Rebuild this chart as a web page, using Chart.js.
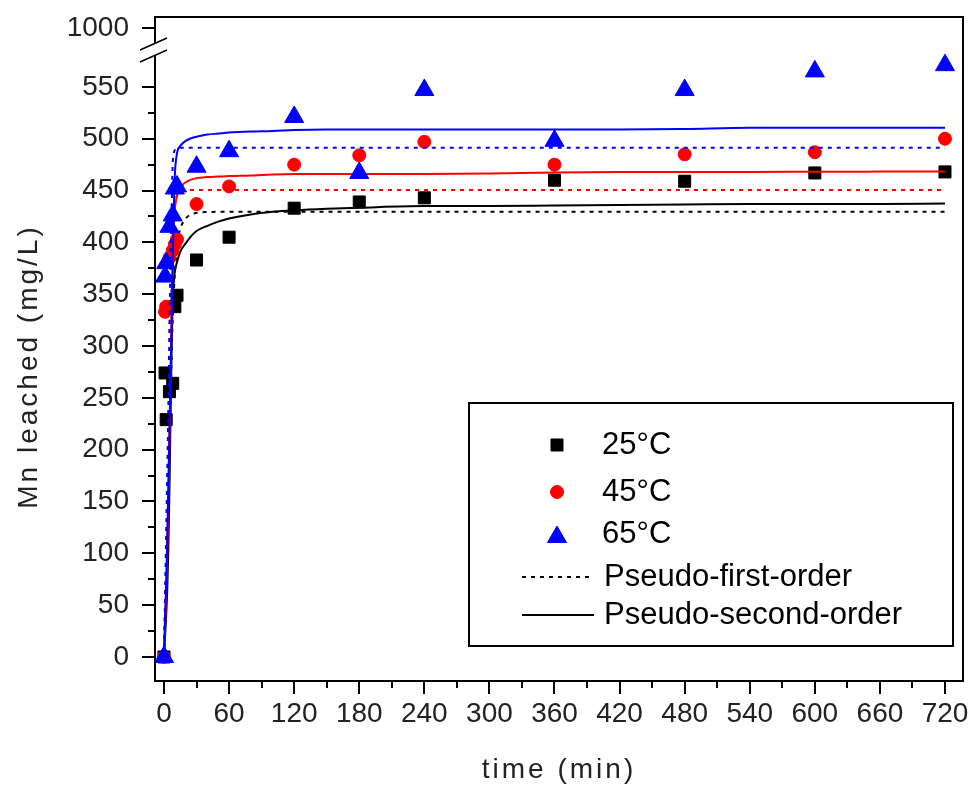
<!DOCTYPE html>
<html>
<head>
<meta charset="utf-8">
<script src="https://cdn.jsdelivr.net/npm/chart.js@4.4.1/dist/chart.umd.min.js"></script>
<style>
  html, body { margin: 0; padding: 0; background: #fff; }
  #wrap { width: 976px; height: 787px; }
</style>
</head>
<body>
<div id="wrap"><canvas id="chart" width="976" height="787"></canvas></div>
<script>
// sampling times (min) and Mn leached (mg/L) at each temperature
var times = [0, 1, 2, 5, 8, 10, 12, 30, 60, 120, 180, 240, 360, 480, 600, 720];
var mn25 = [0, 274, 229, 256, 264, 338, 349, 383, 405, 433, 439, 443, 460, 459, 467, 468];
var mn45 = [0, 333, 338, 385, 392, 398, 403, 437, 454, 475, 484, 497, 475, 485, 487, 500];
var mn65 = [0, 367, 380, 415, 426, 452, 454, 473, 488, 521, 467, 547, 498, 547, 565, 571];

// fitted kinetic curves
var fitTimes = [0, 1, 2, 3, 4, 5, 6, 7, 8, 9, 10, 12, 15, 20, 25, 30, 40, 50, 60, 80, 100, 120, 150, 180, 240, 300, 360, 420, 480, 540, 600, 660, 720];
var pfo25 = [0, 40, 80, 120, 160, 200, 245, 290, 325, 350, 370, 398, 413, 423, 427, 428.5, 429.3, 429.5, 429.5, 429.5, 429.5, 429.5, 429.5, 429.5, 429.5, 429.5, 429.5, 429.5, 429.5, 429.5, 429.5, 429.5, 429.5];
var pso25 = [0, 20, 40, 65, 105, 160, 230, 295, 345, 362, 372, 381, 391, 399, 406, 411, 416, 420, 423, 427, 429.5, 431, 432.5, 433.5, 435, 435, 435.5, 436, 436.5, 437, 437, 437, 437.5];
var pfo45 = [0, 45, 90, 140, 190, 240, 290, 340, 385, 415, 435, 445, 449, 450.3, 450.6, 450.6, 450.6, 450.6, 450.6, 450.6, 450.6, 450.6, 450.6, 450.6, 450.6, 450.6, 450.6, 450.6, 450.6, 450.6, 450.6, 450.6, 450.6];
var pso45 = [0, 30, 60, 100, 150, 205, 265, 330, 385, 415, 432, 445, 453, 458, 460.5, 462, 463, 463.5, 464, 464.5, 465.5, 466, 466, 466, 466, 466.5, 467.5, 468, 468, 468, 468.2, 468.3, 468.5];
var pfo65 = [0, 60, 120, 180, 240, 320, 380, 430, 475, 486, 489, 491, 491.4, 491.4, 491.4, 491.4, 491.4, 491.4, 491.4, 491.4, 491.4, 491.4, 491.4, 491.4, 491.4, 491.4, 491.4, 491.4, 491.4, 491.4, 491.4, 491.4, 491.4];
var pso65 = [0, 40, 70, 115, 165, 215, 270, 320, 375, 430, 465, 486, 493, 498, 500.5, 502, 504, 505, 506, 507, 507.5, 508.5, 509, 509, 509, 509, 509, 509, 509.5, 510.5, 510.5, 510.7, 510.7];

// axis ticks
var xTicks = [0, 60, 120, 180, 240, 300, 360, 420, 480, 540, 600, 660, 720];
var xMinorTicks = [30, 90, 150, 210, 270, 330, 390, 450, 510, 570, 630, 690];
var yTicks = [0, 50, 100, 150, 200, 250, 300, 350, 400, 450, 500, 550];
var yMinorTicks = [25, 75, 125, 175, 225, 275, 325, 375, 425, 475, 525];
var yBreakTicks = [1000];

var legendLabels = ['25°C', '45°C', '65°C', 'Pseudo-first-order', 'Pseudo-second-order'];

function pts(xs, ys) {
	return xs.map(function(x, i) { return { x: x, y: ys[i] }; });
}

var FONT = 'Liberation Sans, Arial, sans-serif';

function markers(label, values, color, style, radius, order) {
	return {
		label: label,
		data: pts(times, values),
		showLine: false,
		pointStyle: style,
		pointRadius: radius,
		pointBackgroundColor: color,
		pointBorderColor: color,
		pointBorderWidth: 1,
		order: order
	};
}

function curve(values, color, dashed, order) {
	return {
		data: pts(fitTimes, values),
		showLine: true,
		pointRadius: 0,
		borderColor: color,
		borderWidth: 2,
		borderDash: dashed ? [4, 5] : [],
		cubicInterpolationMode: 'monotone',
		order: order
	};
}

// fixed axis sizes, and no extra label padding pushing the plot area around
function fixWidth(s) {
	s.width = 155;
	s.paddingTop = 0;
	s.paddingBottom = 0;
}
function fixHeight(s) {
	s.height = 106;
	s.paddingLeft = 0;
	s.paddingRight = 0;
}

// titles are drawn letter-spaced, tick labels (z:1) are not
var titleSpacing = {
	id: 'titleSpacing',
	beforeDraw: function(chart) { chart.ctx.letterSpacing = '3px'; },
	beforeDatasetsDraw: function(chart) { chart.ctx.letterSpacing = '0px'; }
};

// box, minor ticks and the axis break
var frame = {
	id: 'frame',
	afterDraw: function(chart) {
		var ctx = chart.ctx;
		var a = chart.chartArea;
		var xs = chart.scales.x;
		var ys = chart.scales.y;
		ctx.save();
		ctx.strokeStyle = '#000';
		ctx.lineWidth = 2;
		ctx.beginPath();
		ctx.moveTo(a.left, a.top);
		ctx.lineTo(a.right, a.top);
		ctx.lineTo(a.right, a.bottom);
		ctx.stroke();

		ctx.beginPath();
		xMinorTicks.forEach(function(v) {
			var px = Math.round(xs.getPixelForValue(v));
			ctx.moveTo(px, xs.top);
			ctx.lineTo(px, xs.top + 7);
		});
		yMinorTicks.forEach(function(v) {
			var py = Math.round(ys.getPixelForValue(v));
			ctx.moveTo(ys.right - 7, py);
			ctx.lineTo(ys.right, py);
		});
		ctx.stroke();

		// break between the two stacked y ranges
		var ax = ys.right, yb = ys.top;
		ctx.fillStyle = '#fff';
		ctx.fillRect(ax - 4, yb - 8, 8, 11);
		ctx.lineWidth = 1.5;
		ctx.beginPath();
		ctx.moveTo(ax - 15, yb - 2);
		ctx.lineTo(ax + 12, yb - 14);
		ctx.moveTo(ax - 15, yb + 10);
		ctx.lineTo(ax + 12, yb - 2);
		ctx.stroke();
		ctx.restore();
	}
};

var legendBox = {
	id: 'legendBox',
	afterDraw: function(chart) {
		var ctx = chart.ctx;
		var ds = chart.data.datasets;
		ctx.save();
		ctx.strokeStyle = '#000';
		ctx.lineWidth = 2;
		ctx.strokeRect(469, 403, 484, 243);

		var rows = [445, 492, 534, 577, 615];
		[0, 1, 2].forEach(function(i) {
			var d = ds[i];
			ctx.fillStyle = d.pointBackgroundColor;
			ctx.strokeStyle = d.pointBorderColor;
			ctx.lineWidth = 1;
			Chart.helpers.drawPoint(ctx, { pointStyle: d.pointStyle, radius: d.pointRadius, rotation: 0, borderWidth: 1 }, 557, rows[i] + (i === 2 ? 3 : 0));
		});
		ctx.strokeStyle = '#000';
		ctx.lineWidth = 2;
		ctx.setLineDash([4, 5]);
		ctx.beginPath();
		ctx.moveTo(522, rows[3]);
		ctx.lineTo(594, rows[3]);
		ctx.stroke();
		ctx.setLineDash([]);
		ctx.beginPath();
		ctx.moveTo(522, rows[4]);
		ctx.lineTo(594, rows[4]);
		ctx.stroke();

		ctx.fillStyle = '#000';
		ctx.font = '31px ' + FONT;
		ctx.textBaseline = 'middle';
		ctx.textAlign = 'left';
		legendLabels.forEach(function(t, i) {
			ctx.fillText(t, i < 3 ? 602 : 604, rows[i]);
		});
		ctx.restore();
	}
};

var tickFont = { family: FONT, size: 28 };

new Chart(document.getElementById('chart'), {
	type: 'scatter',
	data: {
		datasets: [
			markers('25°C', mn25, '#000000', 'rect', 8.5, 7),
			markers('45°C', mn45, '#ff0000', 'circle', 6.5, 4),
			markers('65°C', mn65, '#0000ff', 'triangle', 11, 1),
			curve(pfo25, '#000000', true, 9),
			curve(pso25, '#000000', false, 8),
			curve(pfo45, '#ff0000', true, 6),
			curve(pso45, '#ff0000', false, 5),
			curve(pfo65, '#0000ff', true, 3),
			curve(pso65, '#0000ff', false, 2)
		]
	},
	options: {
		responsive: false,
		animation: false,
		layout: { padding: { top: 17, right: 13, left: 0, bottom: 0 } },
		plugins: {
			legend: { display: false },
			tooltip: { enabled: false }
		},
		scales: {
			x: {
				type: 'linear',
				position: 'bottom',
				min: -8.3,
				max: 736.6,
				afterFit: fixHeight,
				afterBuildTicks: function(s) { s.ticks = xTicks.map(function(v) { return { value: v }; }); },
				grid: { drawOnChartArea: false, drawTicks: true, tickLength: 13, color: '#000', lineWidth: 2 },
				border: { display: true, color: '#000', width: 2 },
				ticks: { font: tickFont, color: '#222', padding: 3, z: 1, autoSkip: false, maxRotation: 0,
					callback: function(v) { return String(v); } },
				title: { display: true, text: 'time (min)', font: { family: FONT, size: 28 }, color: '#222', padding: { top: 0, bottom: 0 } }
			},
			y: {
				type: 'linear',
				position: 'left',
				stack: 'mn',
				stackWeight: 629,
				min: -23.2,
				max: 583.7,
				afterFit: fixWidth,
				afterBuildTicks: function(s) { s.ticks = yTicks.map(function(v) { return { value: v }; }); },
				grid: { drawOnChartArea: false, drawTicks: true, tickLength: 13, color: '#000', lineWidth: 2 },
				border: { display: true, color: '#000', width: 2 },
				ticks: { font: tickFont, color: '#222', padding: 13, z: 1, autoSkip: false,
					callback: function(v) { return String(v); } },
				title: { display: true, text: 'Mn leached (mg/L)', font: { family: FONT, size: 28 }, color: '#222', padding: { top: 12, bottom: 0 } }
			},
			yTop: {
				type: 'linear',
				position: 'left',
				stack: 'mn',
				stackWeight: 35,
				min: 976.8,
				max: 1010.6,
				afterFit: fixWidth,
				afterBuildTicks: function(s) { s.ticks = yBreakTicks.map(function(v) { return { value: v }; }); },
				grid: { drawOnChartArea: false, drawTicks: true, tickLength: 13, color: '#000', lineWidth: 2 },
				border: { display: true, color: '#000', width: 2 },
				ticks: { font: tickFont, color: '#222', padding: 13, z: 1, autoSkip: false,
					callback: function(v) { return String(v); } }
			}
		}
	},
	plugins: [titleSpacing, frame, legendBox]
});
</script>
</body>
</html>
